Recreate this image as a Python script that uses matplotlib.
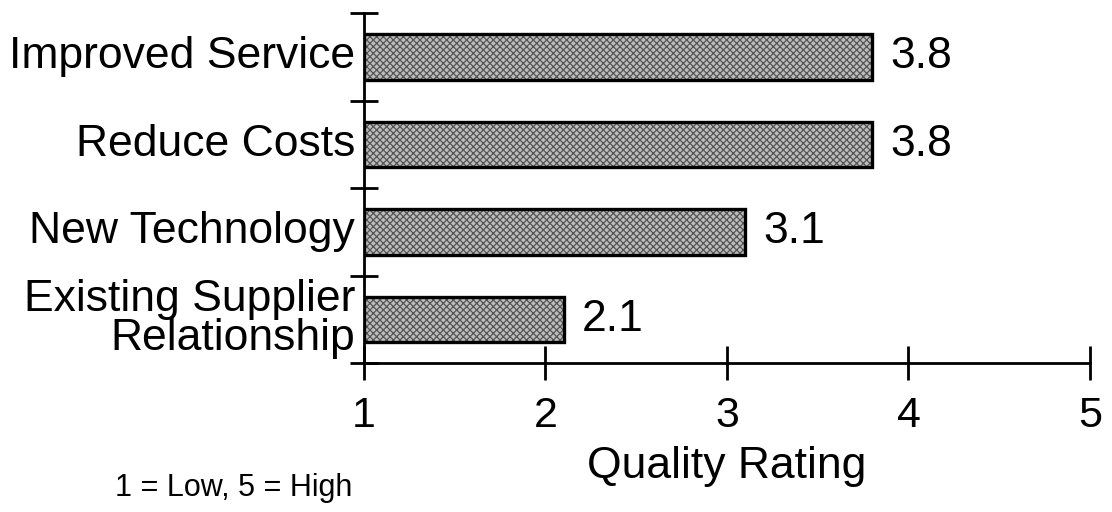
import matplotlib
matplotlib.use('Agg')
import matplotlib.pyplot as plt

# Data (bottom to top)
categories = ['Existing Supplier\nRelationship', 'New Technology', 'Reduce Costs', 'Improved Service']
ratings = [2.1, 3.1, 3.8, 3.8]
x_ticks = [1, 2, 3, 4, 5]

plt.rcParams['font.family'] = ['Liberation Sans', 'DejaVu Sans']
plt.rcParams['hatch.linewidth'] = 0.9

fig = plt.figure(figsize=(11.12, 5.12), dpi=100)
ax = fig.add_axes([0.3273, 0.291, 0.9802 - 0.3273, 0.9746 - 0.291])

positions = [i + 0.5 for i in range(len(categories))]
base = 1
widths = [r - base for r in ratings]

# textured fill, then a black outline on top
ax.barh(positions, widths, height=0.52, left=base, color='#bdbdbd',
        hatch='xxxxx', edgecolor='#555555', linewidth=0)
ax.barh(positions, widths, height=0.52, left=base, fill=False,
        edgecolor='black', linewidth=2.4)

for p, r in zip(positions, ratings):
    ax.text(r + 0.1, p, f'{r:.1f}', va='center', ha='left', fontsize=32)

ax.set_xlim(1, 5)
ax.set_ylim(0, 4)
ax.set_xticks(x_ticks)
ax.set_xticklabels([str(t) for t in x_ticks], fontsize=31)
ax.set_yticks(range(0, 5))
ax.set_yticklabels([])
ax.tick_params(axis='x', direction='inout', length=24, width=2, pad=12)
ax.tick_params(axis='y', direction='inout', length=20, width=2)

for p, c in zip(positions, categories):
    ax.text(-0.012, p, c, transform=ax.get_yaxis_transform(), ha='right',
            va='center', fontsize=32, multialignment='right', linespacing=0.93)

for s in ['top', 'right']:
    ax.spines[s].set_visible(False)
for s in ['left', 'bottom']:
    ax.spines[s].set_linewidth(2)

ax.set_xlabel('Quality Rating', fontsize=32, labelpad=7)
fig.text(0.103, 0.047, '1 = Low, 5 = High', fontsize=22, ha='left', va='center')

fig.savefig('out.png', dpi=100, facecolor='white')
